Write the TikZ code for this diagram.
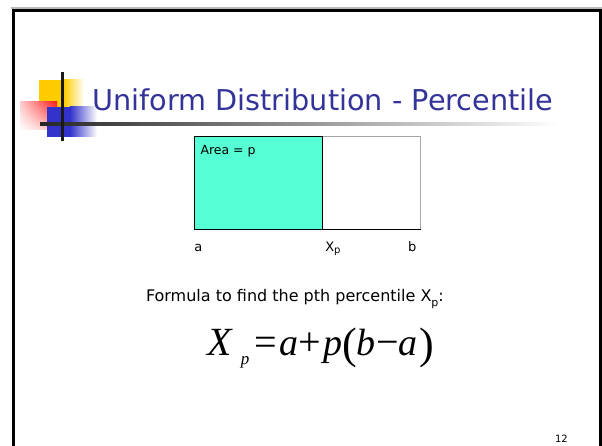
\documentclass[tikz,border=0pt]{standalone}
\usepackage{fontspec}
\setmainfont{DejaVu Sans}
\newfontfamily\tnr{Liberation Serif}
\usetikzlibrary{shadings}
\definecolor{titleblue}{HTML}{333399}
\definecolor{areafill}{HTML}{57FFD4}
\definecolor{decoyellow}{HTML}{FFCC00}
\definecolor{decored}{HTML}{FF1A1A}
\definecolor{decoblue}{HTML}{3333CC}
\tikzset{
  txt/.style={anchor=base west, inner sep=0pt, outer sep=0pt},
  glyph/.style={anchor=base, inner sep=0pt, outer sep=0pt, font=\tnr\fontsize{40}{44}\selectfont},
  iglyph/.style={anchor=base, inner sep=0pt, outer sep=0pt, font=\tnr\itshape\fontsize{38}{44}\selectfont},
  paren/.style={anchor=base, inner sep=0pt, outer sep=0pt, font=\tnr\fontsize{44}{48}\selectfont},
  frameline/.style={line width=3pt, black},
}
\begin{document}
\begin{tikzpicture}[x=1pt,y=-1pt]
\useasboundingbox (0,0) rectangle (602,446);
\fill[white] (0,0) rectangle (602,446);
% slide frame
\draw[line width=1.2pt, gray!55] (11,8) -- (602,8);
\draw[frameline] (13.3,446) -- (13.3,10.5) -- (602,10.5);
\draw[frameline] (600.5,10.5) -- (600.5,446);
% title decoration
\fill[decoyellow] (39,80) rectangle (64,107);
\shade[left color=decoyellow, right color=white] (63.9,80) rectangle (84,107);
\shade[upper right=decored, upper left=red!20, lower right=red!25, lower left=white] (20,102) rectangle (57,130);
\fill[decoblue] (47,107) rectangle (70,137);
\shade[left color=decoblue, right color=white] (69.9,107) rectangle (97,137);
\shade[left color=black!85, right color=white] (40,122.8) rectangle (560,125.4);
\fill[black!90] (61,72) rectangle (64,141);
% title
\node[txt, text=titleblue, font=\fontsize{28.7}{32}\selectfont] (title) at (92.5,110.7) {Uniform Distribution - Percentile};
% distribution box
\draw[line width=1pt, gray!70] (194.3,136.7) rectangle (420.7,230);
\fill[areafill] (194.3,136.7) rectangle (322.7,230);
\draw[line width=1pt, black] (322.7,136.7) -- (194.3,136.7) -- (194.3,230) -- (420.7,230);
\draw[line width=1pt, black] (322.7,136.7) -- (322.7,230);
\node[txt, font=\fontsize{12.5}{14}\selectfont] (area) at (200.5,155) {Area = p};
\node[txt, font=\fontsize{13}{15}\selectfont] (la) at (194.3,251.7) {a};
\node[txt, font=\fontsize{13}{15}\selectfont] (lxp) at (325.3,251.7) {X\raisebox{-1.5pt}{\fontsize{10}{10}\selectfont p}};
\node[txt, font=\fontsize{13}{15}\selectfont] (lb) at (408,251.7) {b};
% formula text
\node[txt, font=\fontsize{16}{18}\selectfont] (ftext) at (146,301.7) {Formula to find the pth percentile X\raisebox{-4.5pt}{\fontsize{11}{11}\selectfont p}:};
% formula
\node[iglyph, font=\tnr\itshape\fontsize{40}{44}\selectfont] (f1) at (220,355) {X};
\node[iglyph, font=\tnr\itshape\fontsize{17}{18}\selectfont] (f2) at (245,364.5) {p};
\node[glyph] (f3) at (265.8,355) {=};
\node[iglyph] (f4) at (288.5,355) {a};
\node[glyph] (f5) at (310,355) {+};
\node[iglyph] (f6) at (333,355) {p};
\node[paren] (f7) at (349.5,358.5) {(};
\node[iglyph] (f8) at (366,355) {b};
\node[glyph] (f9) at (387.5,355) {−};
\node[iglyph] (f10) at (408,355) {a};
\node[paren] (f11) at (427,358.5) {)};
% page number
\node[txt, font=\fontsize{10}{12}\selectfont] (pnum) at (555,442) {12};
\end{tikzpicture}
\end{document}
